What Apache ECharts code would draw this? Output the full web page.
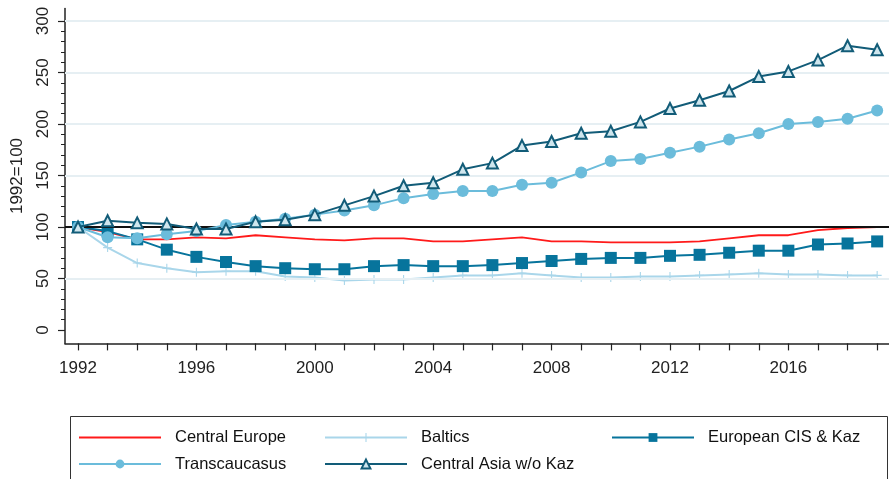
<!DOCTYPE html>
<html>
<head>
<meta charset="utf-8">
<script src="https://cdn.jsdelivr.net/npm/echarts@6/dist/echarts.min.js"></script>
<style>
  html, body { margin: 0; padding: 0; background: #fff; }
  #chart { width: 889px; height: 479px; }
</style>
</head>
<body>
<div id="chart"></div>
<script>
// years on the x axis
const years = [1992,1993,1994,1995,1996,1997,1998,1999,2000,2001,2002,2003,2004,2005,
  2006,2007,2008,2009,2010,2011,2012,2013,2014,2015,2016,2017,2018,2019];

const centralEurope = [100,95,88,88,90,89,92,90,88,87,89,89,86,86,88,90,86,86,85,85,85,86,89,92,92,97,99,100];
const baltics = [100,80,65,60,56,57,57,52,51,48,49,49,51,53,53,55,53,51,51,52,52,53,54,55,54,54,53,53];
const europeanCIS = [100,96,88,78,71,66,62,60,59,59,62,63,62,62,63,65,67,69,70,70,72,73,75,77,77,83,84,86];
const transcaucasus = [100,90,89,93,96,102,105,108,112,116,121,128,132,135,135,141,143,153,164,166,172,178,185,191,200,202,205,213];
const centralAsia = [100,106,104,103,98,98,105,107,112,121,130,140,143,156,162,179,183,191,193,202,215,223,232,246,251,262,276,272];

// axis labels / ticks
const xLabelYears = [1992,1996,2000,2004,2008,2012,2016];
const yLabels = [0,50,100,150,200,250,300];
const yMinorTicks = [0,10,20,30,40,50,60,70,80,90,100,110,120,130,140,150,160,170,180,190,
  200,210,220,230,240,250,260,270,280,290,300];
const gridValues = [50,150,200,250,300];
const baseValue = 100;

const font = "'Liberation Sans Narrow', 'Liberation Sans', Arial, sans-serif";
const plus = 'path://M4.4,0 L5.6,0 L5.6,4.4 L10,4.4 L10,5.6 L5.6,5.6 L5.6,10 L4.4,10 L4.4,5.6 L0,5.6 L0,4.4 L4.4,4.4 Z';

function pairs(arr) {
  return arr.map((v, i) => [years[i], v]);
}

const chart = echarts.init(document.getElementById('chart'));

const legendText = { fontFamily: font, fontSize: 16.5, color: '#111', padding: [0, 0, 0, 9] };
function legendCol(left, items) {
  return {
    orient: 'vertical', left: left, top: 429, padding: 0, itemWidth: 82, itemHeight: 11,
    itemGap: 9.5, data: items, textStyle: legendText, selectedMode: false
  };
}

chart.setOption({
  animation: false,
  backgroundColor: '#fff',
  grid: { left: 65, right: 0, top: 8.6, bottom: 135.6, outerBoundsMode: 'none', containLabel: false },
  xAxis: {
    type: 'value', min: 1991.56, max: 2019.4,
    axisLine: { show: true, onZero: false, lineStyle: { color: '#222', width: 1.5 } },
    axisTick: { show: true, customValues: years, length: 7, lineStyle: { color: '#222', width: 1.2 } },
    axisLabel: { customValues: xLabelYears, formatter: v => String(v),
      fontFamily: font, fontSize: 17, color: '#222', margin: 16 },
    splitLine: { show: false }
  },
  yAxis: [{
    type: 'value', min: -13, max: 312,
    name: '1992=100', nameLocation: 'middle', nameGap: 39,
    nameTextStyle: { fontFamily: font, fontSize: 17, color: '#222' },
    axisLine: { show: true, lineStyle: { color: '#222', width: 1.5 } },
    axisTick: { show: true, customValues: yLabels, length: 7, lineStyle: { color: '#222', width: 1.2 } },
    axisLabel: { customValues: yLabels, rotate: 90, fontFamily: font, fontSize: 17, color: '#222', margin: 13 },
    splitLine: { show: false }
  }, {
    type: 'value', min: -13, max: 312, position: 'left',
    axisLine: { show: false },
    axisTick: { show: true, customValues: yMinorTicks, length: 4, lineStyle: { color: '#222', width: 1 } },
    axisLabel: { show: false },
    splitLine: { show: false }
  }],
  legend: [
    legendCol(78, [{ name: 'Central Europe', itemStyle: { opacity: 0 } }, 'Transcaucasus']),
    legendCol(324, ['Baltics', 'Central Asia w/o Kaz']),
    legendCol(611, ['European CIS & Kaz'])
  ],
  graphic: [{
    type: 'rect', left: 68, top: 414, silent: true,
    shape: { width: 817, height: 70 },
    style: { fill: 'none', stroke: '#333', lineWidth: 1 }
  }],
  series: [
    {
      name: 'Central Europe', type: 'line', data: pairs(centralEurope),
      symbol: 'none', lineStyle: { color: '#ff1a1a', width: 1.8 }, itemStyle: { color: '#ff1a1a' },
      z: 3,
      markLine: {
        silent: true, symbol: 'none', label: { show: false },
        data: gridValues.map(v => ({ yAxis: v, lineStyle: { color: '#e6eff3', width: 2, type: 'solid' } }))
          .concat([{ yAxis: baseValue, lineStyle: { color: '#111', width: 2, type: 'solid' } }])
      }
    },
    {
      name: 'Baltics', type: 'line', data: pairs(baltics),
      symbol: plus, symbolSize: 9,
      lineStyle: { color: '#a9d6ea', width: 2 }, itemStyle: { color: '#a9d6ea' }, z: 2
    },
    {
      name: 'European CIS & Kaz', type: 'line', data: pairs(europeanCIS),
      symbol: 'rect', symbolSize: 12,
      lineStyle: { color: '#07749c', width: 2 }, itemStyle: { color: '#07749c' }, z: 4
    },
    {
      name: 'Transcaucasus', type: 'line', data: pairs(transcaucasus),
      symbol: 'circle', symbolSize: 12,
      lineStyle: { color: '#6bbcdb', width: 2 }, itemStyle: { color: '#6bbcdb' }, z: 5
    },
    {
      name: 'Central Asia w/o Kaz', type: 'line', data: pairs(centralAsia),
      symbol: 'triangle', symbolSize: 11,
      lineStyle: { color: '#125c78', width: 2 },
      itemStyle: { color: '#cfe6ee', borderColor: '#125c78', borderWidth: 2 }, z: 6
    }
  ]
});
</script>
</body>
</html>
